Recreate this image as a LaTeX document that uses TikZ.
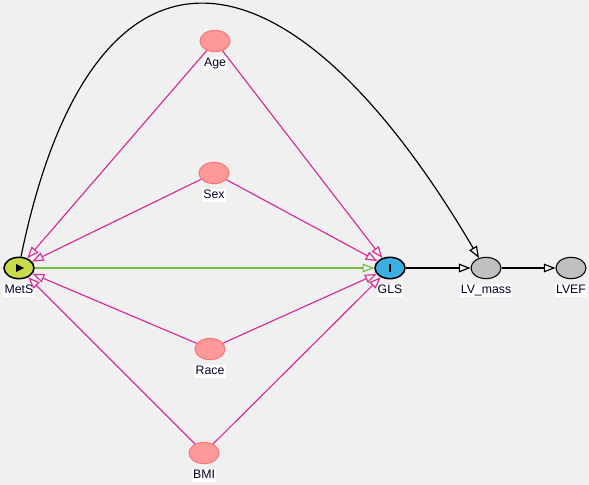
\documentclass[tikz,border=0pt]{standalone}
\usepackage{fontspec}
\setmainfont{Liberation Sans}
\usetikzlibrary{positioning, arrows.meta, shapes.geometric}
\definecolor{bg}{RGB}{240,240,240}
\definecolor{confpink}{RGB}{255,153,153}
\definecolor{confedge}{RGB}{245,120,120}
\definecolor{pathpink}{RGB}{214,45,150}
\definecolor{causal}{RGB}{115,190,60}
\definecolor{expo}{RGB}{200,220,75}
\definecolor{outc}{RGB}{60,175,225}
\definecolor{other}{RGB}{192,192,192}

\begin{document}
\begin{tikzpicture}[
    x=0.03cm, y=-0.03cm,
    var/.style={ellipse, draw, line width=0.9pt, minimum width=0.9cm, minimum height=0.64cm, inner sep=0pt},
    conf/.style={var, fill=confpink, draw=confedge},
    lab/.style={fill=white, inner sep=1pt, text height=7.5pt, text depth=2pt, text=black!85!blue, font=\fontsize{10.5}{12}\selectfont},
    line/.style={draw, line width=1pt, -{Triangle[open, length=10pt, width=7.5pt]}},
    bias/.style={line, draw=pathpink},
    ]
    \fill[bg] (0,0) rectangle (589,485);
    \useasboundingbox (0,0) rectangle (589,485);

    % variables
    \node[var, fill=expo, line width=1.3pt] (mets) at (19,268) {};
    \node[var, fill=outc, line width=1.3pt] (gls) at (390,268) {};
    \node[var, fill=other] (lvmass) at (486,268) {};
    \node[var, fill=other] (lvef) at (571,268) {};

    \node[conf] (age) at (215,41) {};
    \node[conf] (sex) at (214,173) {};
    \node[conf] (race) at (210,349) {};
    \node[conf] (bmi) at (204,453) {};

    % markers
    \fill (mets.center) ++(-3,-4) -- ++(8,4) -- ++(-8,4) -- cycle;
    \fill ([xshift=-1pt,yshift=-3.5pt]gls.center) rectangle ([xshift=1pt,yshift=3.5pt]gls.center);

    % labels
    \node[lab, below=3.5pt of mets] {MetS};
    \node[lab, below=3.5pt of gls] {GLS};
    \node[lab, below=3.5pt of lvmass] {LV\_mass};
    \node[lab, below=3.5pt of lvef] {LVEF};
    \node[lab, below=3.5pt of age] {Age};
    \node[lab, below=3.5pt of sex] {Sex};
    \node[lab, below=3.5pt of race] {Race};
    \node[lab, below=3.5pt of bmi] {BMI};

    % edges
    \draw[bias] (age) -- (mets);
    \draw[bias] (age) -- (gls);
    \draw[bias] (sex) -- (mets);
    \draw[bias] (sex) -- (gls);
    \draw[bias] (race) -- (mets);
    \draw[bias] (race) -- (gls);
    \draw[bias] (bmi) -- (mets);
    \draw[bias] (bmi) -- (gls);

    \draw[line, draw=causal] (mets) -- (gls);
    \draw[line] (gls) -- (lvmass);
    \draw[line] (lvmass) -- (lvef);
    \draw[line] (mets.80) .. controls (90,-80) and (280,-80) .. (lvmass.125);

\end{tikzpicture}
\end{document}
